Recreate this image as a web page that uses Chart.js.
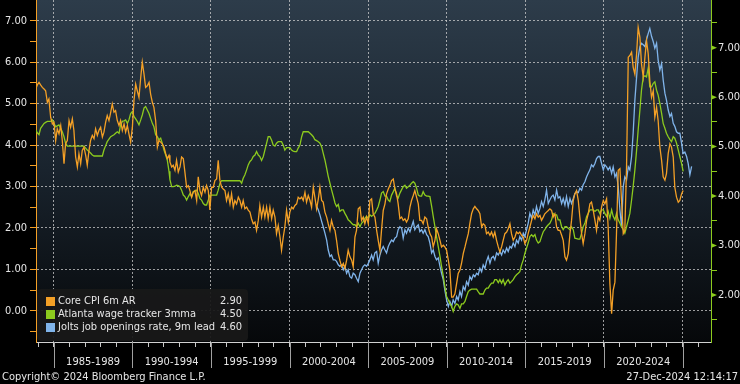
<!DOCTYPE html>
<html>
<head>
<meta charset="utf-8">
<script src="https://cdn.jsdelivr.net/npm/chart.js@4.4.1/dist/chart.umd.min.js"></script>
<style>
  html, body { margin: 0; padding: 0; background: #000; }
  canvas { display: block; }
</style>
</head>
<body>
<canvas id="chart" width="740" height="384"></canvas>
<script>
// decimal-year dates shared by the three series
const dates = [
  // 1983.8 - 1992.3
  1983.85, 1983.95, 1984.06, 1984.16, 1984.27, 1984.38, 1984.48, 1984.59, 1984.69, 1984.80,
  1984.91, 1985.01, 1985.12, 1985.22, 1985.33, 1985.44, 1985.54, 1985.65, 1985.75, 1985.86,
  1985.97, 1986.07, 1986.18, 1986.28, 1986.39, 1986.50, 1986.60, 1986.71, 1986.81, 1986.92,
  1987.03, 1987.13, 1987.24, 1987.34, 1987.45, 1987.56, 1987.66, 1987.77, 1987.87, 1987.98,
  1988.09, 1988.19, 1988.30, 1988.40, 1988.51, 1988.62, 1988.72, 1988.83, 1988.93, 1989.04,
  1989.15, 1989.25, 1989.36, 1989.47, 1989.57, 1989.68, 1989.78, 1989.89, 1990.00, 1990.10,
  1990.21, 1990.31, 1990.42, 1990.53, 1990.63, 1990.74, 1990.84, 1990.95, 1991.06, 1991.16,
  1991.27, 1991.37, 1991.48, 1991.59, 1991.69, 1991.80, 1991.90, 1992.01, 1992.12, 1992.22,
  1992.33,
  // 1992.4 - 2000.6
  1992.39, 1992.50, 1992.60, 1992.71, 1992.81, 1992.92, 1993.03, 1993.13, 1993.24, 1993.34,
  1993.45, 1993.56, 1993.66, 1993.77, 1993.87, 1993.98, 1994.09, 1994.19, 1994.30, 1994.40,
  1994.51, 1994.62, 1994.72, 1994.83, 1994.93, 1995.04, 1995.15, 1995.25, 1995.36, 1995.46,
  1995.57, 1995.68, 1995.78, 1995.89, 1995.99, 1996.10, 1996.21, 1996.31, 1996.42, 1996.52,
  1996.63, 1996.74, 1996.84, 1996.95, 1997.05, 1997.16, 1997.27, 1997.37, 1997.48, 1997.58,
  1997.69, 1997.80, 1997.90, 1998.01, 1998.11, 1998.22, 1998.33, 1998.43, 1998.54, 1998.64,
  1998.75, 1998.86, 1998.96, 1999.07, 1999.17, 1999.28, 1999.39, 1999.49, 1999.60, 1999.70,
  1999.81, 1999.92, 2000.02, 2000.13, 2000.23, 2000.34, 2000.45, 2000.55,
  // 2000.7 - 2008.8
  2000.66, 2000.77, 2000.87, 2000.98, 2001.08, 2001.19, 2001.30, 2001.40, 2001.51, 2001.61,
  2001.72, 2001.83, 2001.93, 2002.04, 2002.14, 2002.25, 2002.36, 2002.46, 2002.57, 2002.67,
  2002.78, 2002.89, 2002.99, 2003.10, 2003.20, 2003.31, 2003.42, 2003.52, 2003.63, 2003.73,
  2003.84, 2003.95, 2004.05, 2004.16, 2004.26, 2004.37, 2004.48, 2004.58, 2004.69, 2004.79,
  2004.90, 2005.01, 2005.11, 2005.22, 2005.32, 2005.43, 2005.54, 2005.64, 2005.75, 2005.85,
  2005.96, 2006.07, 2006.17, 2006.28, 2006.38, 2006.49, 2006.60, 2006.70, 2006.81, 2006.91,
  2007.02, 2007.13, 2007.23, 2007.34, 2007.44, 2007.55, 2007.66, 2007.76, 2007.87, 2007.97,
  2008.08, 2008.19, 2008.29, 2008.40, 2008.50, 2008.61, 2008.72, 2008.82,
  // 2008.9 - 2017.1
  2008.93, 2009.04, 2009.14, 2009.25, 2009.35, 2009.46, 2009.57, 2009.67, 2009.78, 2009.88,
  2009.99, 2010.10, 2010.20, 2010.31, 2010.41, 2010.52, 2010.63, 2010.73, 2010.84, 2010.94,
  2011.05, 2011.16, 2011.26, 2011.37, 2011.47, 2011.58, 2011.69, 2011.79, 2011.90, 2012.00,
  2012.11, 2012.22, 2012.32, 2012.43, 2012.53, 2012.64, 2012.75, 2012.85, 2012.96, 2013.06,
  2013.17, 2013.28, 2013.38, 2013.49, 2013.59, 2013.70, 2013.81, 2013.91, 2014.02, 2014.12,
  2014.23, 2014.34, 2014.44, 2014.55, 2014.65, 2014.76, 2014.87, 2014.97, 2015.08, 2015.18,
  2015.29, 2015.40, 2015.50, 2015.61, 2015.71, 2015.82, 2015.93, 2016.03, 2016.14, 2016.24,
  2016.35, 2016.46, 2016.56, 2016.67, 2016.77, 2016.88, 2016.99, 2017.09,
  // 2017.2 - 2025.6
  2017.20, 2017.31, 2017.41, 2017.52, 2017.62, 2017.73, 2017.84, 2017.94, 2018.05, 2018.15,
  2018.26, 2018.37, 2018.47, 2018.58, 2018.68, 2018.79, 2018.90, 2019.00, 2019.11, 2019.21,
  2019.32, 2019.43, 2019.53, 2019.64, 2019.74, 2019.85, 2019.96, 2020.06, 2020.17, 2020.27,
  2020.38, 2020.49, 2020.59, 2020.70, 2020.80, 2020.91, 2021.02, 2021.12, 2021.23, 2021.33,
  2021.44, 2021.55, 2021.65, 2021.76, 2021.86, 2021.97, 2022.08, 2022.18, 2022.29, 2022.39,
  2022.50, 2022.61, 2022.71, 2022.82, 2022.92, 2023.03, 2023.14, 2023.24, 2023.35, 2023.45,
  2023.56, 2023.67, 2023.77, 2023.88, 2023.98, 2024.09, 2024.20, 2024.30, 2024.41, 2024.51,
  2024.62, 2024.73, 2024.83, 2024.94, 2025.04, 2025.15, 2025.26, 2025.36, 2025.47, 2025.58,
];

// Core CPI 6m AR (left axis), starts at dates[0]
const coreCpi6m = [
  5.35, 5.45, 5.51, 5.45, 5.39, 5.35, 5.31, 5.03, 5.11, 4.67,
  4.51, 4.55, 4.11, 4.39, 4.27, 4.47, 4.11, 3.55, 4.03, 4.11,
  4.59, 4.43, 4.63, 4.35, 3.71, 3.47, 3.79, 3.55, 3.87, 3.95,
  3.75, 3.51, 3.87, 4.11, 4.23, 4.15, 4.39, 4.23, 4.35, 4.43,
  4.19, 4.31, 4.55, 4.71, 4.59, 4.79, 4.99, 4.79, 4.83, 4.59,
  4.47, 4.59, 4.35, 4.51, 4.31, 4.47, 4.27, 4.07, 4.43, 5.07,
  5.47, 5.31, 5.15, 5.63, 6.00, 5.71, 5.39, 5.43, 5.51, 5.23,
  5.03, 4.91, 4.59, 3.95, 4.11, 4.07, 4.03, 3.95, 3.79, 3.67,
  3.75,
  3.59, 3.47, 3.51, 3.39, 3.63, 3.35, 3.47, 3.71, 3.67, 3.35,
  2.98, 3.02, 2.90, 2.74, 2.86, 2.90, 2.66, 3.23, 2.90, 2.78,
  2.98, 2.86, 3.02, 2.90, 2.43, 2.98, 2.98, 3.14, 3.18, 3.63,
  3.14, 2.98, 2.94, 2.90, 2.66, 2.82, 2.58, 2.82, 2.50, 2.66,
  2.58, 2.74, 2.66, 2.50, 2.66, 2.46, 2.50, 2.43, 2.38, 2.22,
  2.10, 2.14, 1.94, 2.18, 2.54, 2.26, 2.50, 2.26, 2.50, 2.22,
  2.50, 2.22, 2.43, 2.26, 1.86, 2.06, 1.78, 1.46, 1.78, 2.02,
  2.43, 2.14, 2.38, 2.50, 2.46, 2.54, 2.58, 2.74,
  2.70, 2.74, 2.66, 2.86, 2.62, 2.78, 2.66, 2.50, 2.98, 2.74,
  2.46, 2.70, 2.98, 2.66, 2.62, 2.38, 2.26, 2.10, 1.94, 2.18,
  2.02, 1.94, 1.70, 1.38, 1.22, 1.06, 1.14, 1.02, 1.22, 1.46,
  1.30, 1.22, 1.06, 1.78, 1.94, 2.46, 2.50, 2.18, 2.26, 2.10,
  2.26, 2.10, 2.66, 2.70, 2.34, 2.26, 1.94, 1.70, 1.46, 1.94,
  2.42, 2.58, 2.82, 2.94, 3.02, 3.14, 3.18, 2.94, 2.82, 2.58,
  2.22, 2.26, 2.18, 2.22, 2.14, 2.22, 2.50, 2.66, 2.78, 2.90,
  2.74, 2.58, 2.18, 2.18, 2.10, 2.26, 2.22, 2.02,
  1.86, 1.78, 1.54, 1.70, 1.98, 1.86, 1.70, 1.54, 1.58, 1.54,
  1.46, 1.22, 0.98, 0.33, 0.33, 0.41, 0.66, 0.90, 0.98, 1.14,
  1.38, 1.54, 1.70, 1.86, 2.10, 2.34, 2.46, 2.52, 2.46, 2.42,
  2.34, 2.02, 2.10, 2.06, 1.86, 1.90, 1.82, 1.90, 1.78, 1.90,
  1.70, 1.54, 1.42, 1.54, 1.70, 1.86, 1.90, 1.98, 2.10, 1.86,
  1.70, 1.78, 1.90, 1.86, 1.90, 1.82, 1.78, 1.62, 1.70, 1.86,
  2.02, 2.18, 2.30, 2.22, 2.34, 2.26, 2.30, 2.18, 2.26, 2.34,
  2.38, 2.42, 2.46, 2.42, 2.26, 2.34, 2.02, 1.94,
  1.94, 1.82, 1.70, 1.30, 1.22, 1.38, 1.86, 2.18, 2.66, 2.82,
  2.90, 2.66, 2.26, 1.86, 1.62, 1.86, 2.18, 2.34, 2.58, 2.62,
  2.42, 2.18, 1.94, 2.26, 2.18, 2.50, 2.66, 2.58, 2.70, 2.02,
  0.66, -0.07, 0.49, 0.69, 1.86, 3.39, 3.43, 2.66, 1.86, 1.94,
  3.47, 6.12, 6.16, 6.24, 5.88, 5.71, 6.20, 6.84, 6.60, 5.96,
  5.64, 6.12, 6.52, 6.20, 5.55, 5.15, 5.31, 4.67, 4.91, 4.59,
  3.95, 3.63, 3.23, 3.15, 3.31, 3.79, 4.03, 3.95, 3.71, 2.98,
  2.74, 2.62, 2.66, 2.82, 2.90,
];

// Atlanta wage tracker 3mma (right axis), starts at dates[0]
const atlantaWage = [
  5.34, 5.28, 5.24, 5.37, 5.42, 5.47, 5.49, 5.51, 5.51, 5.51,
  5.54, 5.47, 5.40, 5.42, 5.44, 5.37, 5.30, 5.20, 5.07, 5.01,
  5.01, 5.01, 5.01, 5.01, 5.01, 5.01, 5.01, 5.01, 5.01, 5.01,
  4.97, 4.93, 4.90, 4.87, 4.83, 4.81, 4.81, 4.81, 4.81, 4.81,
  4.81, 4.93, 5.02, 5.10, 5.15, 5.20, 5.22, 5.24, 5.27, 5.30,
  5.27, 5.44, 5.51, 5.52, 5.54, 5.47, 5.54, 5.67, 5.71, 5.61,
  5.56, 5.51, 5.44, 5.54, 5.64, 5.78, 5.81, 5.74, 5.67, 5.57,
  5.47, 5.40, 5.24, 5.20, 5.14, 5.17, 5.07, 4.93, 4.83, 4.73,
  4.50,
  4.33, 4.19, 4.19, 4.20, 4.22, 4.21, 4.19, 4.12, 4.02, 3.99,
  3.92, 3.99, 4.05, 3.99, 4.09, 4.10, 4.12, 4.05, 3.95, 3.92,
  3.85, 3.82, 3.82, 3.92, 4.02, 4.02, 4.02, 4.02, 4.02, 4.12,
  4.26, 4.31, 4.31, 4.31, 4.31, 4.31, 4.31, 4.31, 4.31, 4.31,
  4.31, 4.31, 4.31, 4.26, 4.36, 4.43, 4.53, 4.63, 4.70, 4.73,
  4.80, 4.83, 4.90, 4.83, 4.80, 4.72, 4.80, 4.93, 5.07, 5.20,
  5.20, 5.13, 5.03, 5.01, 5.07, 5.10, 5.10, 5.10, 5.03, 4.93,
  4.98, 4.98, 4.98, 4.93, 4.91, 4.90, 4.90, 4.97,
  5.03, 5.20, 5.30, 5.30, 5.30, 5.30, 5.27, 5.24, 5.20, 5.14,
  5.12, 5.10, 5.07, 5.00, 4.87, 4.73, 4.56, 4.40, 4.26, 4.13,
  4.00, 3.86, 3.79, 3.83, 3.69, 3.72, 3.72, 3.65, 3.59, 3.52,
  3.49, 3.45, 3.42, 3.42, 3.38, 3.45, 3.38, 3.45, 3.49, 3.55,
  3.59, 3.55, 3.62, 3.59, 3.62, 3.65, 3.72, 3.79, 3.92, 4.06,
  4.09, 4.00, 4.00, 3.92, 3.89, 4.02, 4.09, 4.16, 4.00, 3.96,
  4.06, 4.13, 4.19, 4.22, 4.16, 4.19, 4.22, 4.26, 4.29, 4.26,
  4.16, 4.02, 4.00, 4.00, 4.09, 4.02, 4.00, 4.00,
  3.99, 3.79, 3.59, 3.38, 3.18, 2.98, 2.78, 2.58, 2.38, 2.17,
  1.97, 1.90, 1.83, 1.77, 1.67, 1.77, 1.82, 1.80, 1.73, 1.82,
  1.82, 1.87, 1.97, 2.07, 2.10, 2.12, 2.12, 2.12, 2.12, 2.07,
  2.02, 2.02, 2.02, 2.10, 2.14, 2.14, 2.20, 2.24, 2.24, 2.31,
  2.31, 2.25, 2.31, 2.24, 2.31, 2.20, 2.27, 2.31, 2.24, 2.27,
  2.31, 2.37, 2.41, 2.44, 2.47, 2.61, 2.71, 2.84, 2.95, 3.05,
  3.18, 3.22, 3.18, 3.22, 3.11, 3.05, 3.08, 3.18, 3.28, 3.32,
  3.38, 3.42, 3.45, 3.52, 3.65, 3.62, 3.62, 3.52,
  3.52, 3.38, 3.32, 3.38, 3.38, 3.35, 3.32, 3.38, 3.32, 3.15,
  3.14, 3.13, 3.13, 3.25, 3.38, 3.45, 3.59, 3.65, 3.72, 3.72,
  3.72, 3.69, 3.72, 3.72, 3.65, 3.72, 3.72, 3.65, 3.59, 3.69,
  3.55, 3.72, 3.59, 3.52, 3.65, 3.52, 3.45, 3.38, 3.32, 3.25,
  3.38, 3.52, 3.65, 3.92, 4.19, 4.53, 4.93, 5.34, 5.74, 6.14,
  6.41, 6.43, 6.41, 6.59, 6.21, 6.21, 6.28, 6.31, 6.14, 6.04,
  5.87, 5.67, 5.47, 5.37, 5.27, 5.20, 5.14, 5.10, 5.20, 5.17,
  5.07, 4.93, 4.80, 4.66, 4.50,
];

// Jolts job openings rate, 9m lead (right axis), starts at joltsFirstDate
const joltsFirstDate = 2001.72;
const joltsLead = [
  3.80, 3.72, 3.62, 3.49, 3.38, 3.25, 3.11, 2.91, 2.78, 2.81,
  2.71, 2.71, 2.68, 2.61, 2.58, 2.61, 2.51, 2.58, 2.44, 2.51,
  2.37, 2.34, 2.44, 2.41, 2.34, 2.27, 2.44, 2.51, 2.58, 2.61,
  2.58, 2.64, 2.71, 2.81, 2.71, 2.85, 2.88, 2.64, 2.81, 2.91,
  2.98, 2.91, 2.85, 2.98, 3.05, 3.11, 3.08, 3.15, 3.18, 3.32,
  3.38, 3.35, 3.15, 3.32, 3.25, 3.35, 3.28, 3.38, 3.49, 3.32,
  3.38, 3.42, 3.28, 3.32, 3.25, 3.32, 3.22, 3.18,
  3.05, 2.85, 2.91, 2.78, 2.71, 2.75, 2.58, 2.44, 2.31, 2.10,
  1.90, 1.77, 1.87, 1.77, 1.90, 1.83, 1.97, 1.90, 2.07, 1.97,
  2.17, 2.10, 2.27, 2.20, 2.37, 2.31, 2.41, 2.37, 2.44, 2.41,
  2.54, 2.47, 2.61, 2.54, 2.68, 2.78, 2.64, 2.75, 2.78, 2.71,
  2.85, 2.81, 2.88, 2.81, 2.91, 2.85, 2.95, 2.88, 2.98, 2.95,
  3.05, 2.98, 3.11, 3.05, 3.18, 3.11, 3.25, 3.18, 3.32, 3.45,
  3.65, 3.55, 3.72, 3.62, 3.79, 3.65, 3.75, 3.89, 3.79, 3.92,
  4.12, 3.85, 3.92, 3.99, 4.02, 3.92, 4.12, 3.96,
  3.99, 3.85, 3.95, 3.82, 3.99, 3.79, 3.95, 3.85, 3.95, 4.05,
  4.09, 4.07, 4.16, 4.12, 4.23, 4.29, 4.39, 4.46, 4.53, 4.63,
  4.59, 4.66, 4.76, 4.80, 4.80, 4.66, 4.53, 4.63, 4.59, 4.53,
  4.59, 4.46, 4.59, 4.39, 4.46, 4.19, 3.72, 3.38, 4.19, 4.39,
  4.33, 4.59, 4.53, 4.80, 5.27, 5.94, 6.41, 6.81, 7.02, 7.09,
  7.06, 7.02, 7.16, 7.29, 7.39, 7.23, 7.12, 6.99, 7.09, 6.75,
  6.55, 6.68, 6.35, 6.08, 5.94, 5.74, 5.61, 5.67, 5.47, 5.41,
  5.30, 5.27, 5.27, 5.07, 4.86, 4.89, 4.80, 4.66, 4.43, 4.60,
];

const seriesLabels = ["Core CPI 6m AR", "Atlanta wage tracker 3mma", "Jolts job openings rate, 9m lead"];

// axis ticks
const yearTicks = [1984, 1985, 1986, 1987, 1988, 1989, 1990, 1991, 1992, 1993, 1994, 1995, 1996, 1997,
  1998, 1999, 2000, 2001, 2002, 2003, 2004, 2005, 2006, 2007, 2008, 2009, 2010, 2011, 2012, 2013,
  2014, 2015, 2016, 2017, 2018, 2019, 2020, 2021, 2022, 2023, 2024, 2025, 2026];
const periodEdges = [1985, 1990, 1995, 2000, 2005, 2010, 2015, 2020, 2025];
const periodMids = [1987.5, 1992.5, 1997.5, 2002.5, 2007.5, 2012.5, 2017.5, 2022.5];
const periodLabels = ["1985-1989", "1990-1994", "1995-1999", "2000-2004", "2005-2009", "2010-2014", "2015-2019", "2020-2024"];
const leftTicks = [-0.5, 0, 0.5, 1, 1.5, 2, 2.5, 3, 3.5, 4, 4.5, 5, 5.5, 6, 6.5, 7];
const rightTicks = [1.5, 2, 2.5, 3, 3.5, 4, 4.5, 5, 5.5, 6, 6.5, 7, 7.5];

const FONT = "'Liberation Sans Narrow', 'DejaVu Sans Condensed', 'Arial Narrow', sans-serif";
const FONT_SIZE = 11;
const TXT = "#e6e6e6";
const ORANGE = "#f4a026";
const GREEN = "#8cca1e";
const BLUE = "#80b4ea";
const GRID = "rgba(205,205,205,0.75)";

Chart.defaults.font.family = FONT;
Chart.defaults.font.size = FONT_SIZE;

function toPoints(values, start) {
  return values.map((v, i) => ({ x: dates[start + i], y: v }));
}

function fixedTicks(list) {
  return (scale) => {
    scale.ticks = list.map((v) => ({ value: v }));
  };
}

const backdrop = {
  id: "backdrop",
  beforeDraw(chart) {
    const { ctx, chartArea: a, width, height } = chart;
    ctx.save();
    ctx.fillStyle = "#000";
    ctx.fillRect(0, 0, width, height);
    const g = ctx.createLinearGradient(0, a.top, 0, a.bottom);
    g.addColorStop(0, "#2d3c4a");
    g.addColorStop(0.5, "#19232d");
    g.addColorStop(1, "#06080a");
    ctx.fillStyle = g;
    ctx.fillRect(a.left, a.top, a.right - a.left, a.bottom - a.top);
    ctx.restore();
  },
};

// long dividers under the x axis and the arrow-style major ticks on the right axis
const axisMarks = {
  id: "axisMarks",
  afterDraw(chart) {
    const { ctx, chartArea: a, scales } = chart;
    ctx.save();
    ctx.strokeStyle = "#a0a0a0";
    ctx.lineWidth = 1;
    periodEdges.forEach((v) => {
      const x = Math.round(scales.x.getPixelForValue(v)) + 0.5;
      ctx.beginPath();
      ctx.moveTo(x, a.bottom);
      ctx.lineTo(x, a.bottom + 26);
      ctx.stroke();
    });
    ctx.fillStyle = GREEN;
    rightTicks.filter((v) => Number.isInteger(v)).forEach((v) => {
      const y = scales.yR.getPixelForValue(v);
      ctx.beginPath();
      ctx.moveTo(a.right, y - 2.5);
      ctx.lineTo(a.right + 6, y);
      ctx.lineTo(a.right, y + 2.5);
      ctx.closePath();
      ctx.fill();
    });
    ctx.restore();
  },
};

const valueLegend = {
  id: "valueLegend",
  afterDraw(chart) {
    const { ctx } = chart;
    const swatches = [ORANGE, GREEN, BLUE];
    const rows = [301, 314.5, 327];
    ctx.save();
    ctx.fillStyle = "rgba(24,24,24,0.94)";
    ctx.beginPath();
    ctx.roundRect(37, 289, 211, 52, 4);
    ctx.fill();
    ctx.font = FONT_SIZE + "px " + FONT;
    ctx.textBaseline = "middle";
    chart.data.datasets.forEach((ds, i) => {
      const y = rows[i];
      ctx.fillStyle = swatches[i];
      ctx.fillRect(46, Math.round(y - 4.5), 9, 9);
      ctx.fillStyle = TXT;
      ctx.textAlign = "left";
      ctx.fillText(ds.label, 58, y);
      ctx.textAlign = "right";
      ctx.fillText(ds.data[ds.data.length - 1].y.toFixed(2), 242, y);
    });
    ctx.restore();
  },
};

const footer = {
  id: "footer",
  afterDraw(chart) {
    const { ctx, width } = chart;
    ctx.save();
    ctx.font = FONT_SIZE + "px " + FONT;
    ctx.fillStyle = TXT;
    ctx.textBaseline = "middle";
    ctx.textAlign = "left";
    ctx.fillText("Copyright\u00a9 2024 Bloomberg Finance L.P.", 2, 377.5);
    ctx.textAlign = "right";
    ctx.fillText("27-Dec-2024 12:14:17", width - 2, 377.5);
    ctx.restore();
  },
};

const joltsStart = dates.indexOf(joltsFirstDate);

new Chart(document.getElementById("chart").getContext("2d"), {
  type: "line",
  data: {
    datasets: [
      { label: seriesLabels[0], data: toPoints(coreCpi6m, 0), borderColor: ORANGE, yAxisID: "yL" },
      { label: seriesLabels[1], data: toPoints(atlantaWage, 0), borderColor: GREEN, yAxisID: "yR" },
      { label: seriesLabels[2], data: toPoints(joltsLead, joltsStart), borderColor: BLUE, yAxisID: "yR" },
    ],
  },
  options: {
    responsive: false,
    animation: false,
    events: [],
    layout: { padding: { top: 0, left: 0, right: 0, bottom: 14 } },
    elements: {
      point: { radius: 0 },
      line: { borderWidth: 1.3, tension: 0 },
    },
    plugins: {
      legend: { display: false },
      tooltip: { enabled: false },
    },
    scales: {
      x: {
        type: "linear",
        position: "bottom",
        weight: 0,
        min: 1983.868,
        max: 2026.813,
        afterBuildTicks: fixedTicks(yearTicks),
        afterFit: (s) => { s.height = 8; s.paddingLeft = 0; s.paddingRight = 0; },
        ticks: { display: false, autoSkip: false },
        grid: {
          color: (c) => (c.tick && c.tick.value % 5 === 0 ? GRID : "transparent"),
          tickColor: "#c8c8c8",
          tickLength: 5,
          tickBorderDash: [],
        },
        border: { color: "#d0d0d0", dash: [2, 2] },
      },
      x2: {
        type: "linear",
        position: "bottom",
        weight: 1,
        min: 1983.868,
        max: 2026.813,
        afterBuildTicks: fixedTicks(periodMids),
        afterFit: (s) => { s.height = 20; s.paddingLeft = 0; s.paddingRight = 0; },
        ticks: {
          color: TXT,
          padding: 6,
          autoSkip: false,
          maxRotation: 0,
          callback: (v, i) => periodLabels[i],
        },
        grid: { display: false, drawTicks: false },
        border: { display: false },
      },
      yL: {
        type: "linear",
        position: "left",
        min: -0.755,
        max: 7.5,
        afterBuildTicks: fixedTicks(leftTicks),
        afterFit: (s) => { s.width = 36; s.paddingTop = 0; s.paddingBottom = 0; },
        ticks: {
          color: TXT,
          padding: 3,
          autoSkip: false,
          callback: (v) => (Number.isInteger(v) ? v.toFixed(2) : ""),
        },
        grid: {
          color: (c) => (c.tick && Number.isInteger(c.tick.value) ? GRID : "transparent"),
          tickColor: ORANGE,
          tickLength: 6,
          tickBorderDash: [],
        },
        border: { color: ORANGE, dash: [2, 2] },
      },
      yR: {
        type: "linear",
        position: "right",
        min: 1.05,
        max: 7.964,
        afterBuildTicks: fixedTicks(rightTicks),
        afterFit: (s) => { s.width = 29; s.paddingTop = 0; s.paddingBottom = 0; },
        ticks: {
          color: TXT,
          padding: 1,
          autoSkip: false,
          callback: (v) => (Number.isInteger(v) ? v.toFixed(2) : ""),
        },
        grid: {
          drawOnChartArea: false,
          tickColor: (c) => (c.tick && Number.isInteger(c.tick.value) ? "transparent" : GREEN),
          tickLength: 6,
        },
        border: { color: GREEN },
      },
    },
  },
  plugins: [backdrop, axisMarks, valueLegend, footer],
});
</script>
</body>
</html>
